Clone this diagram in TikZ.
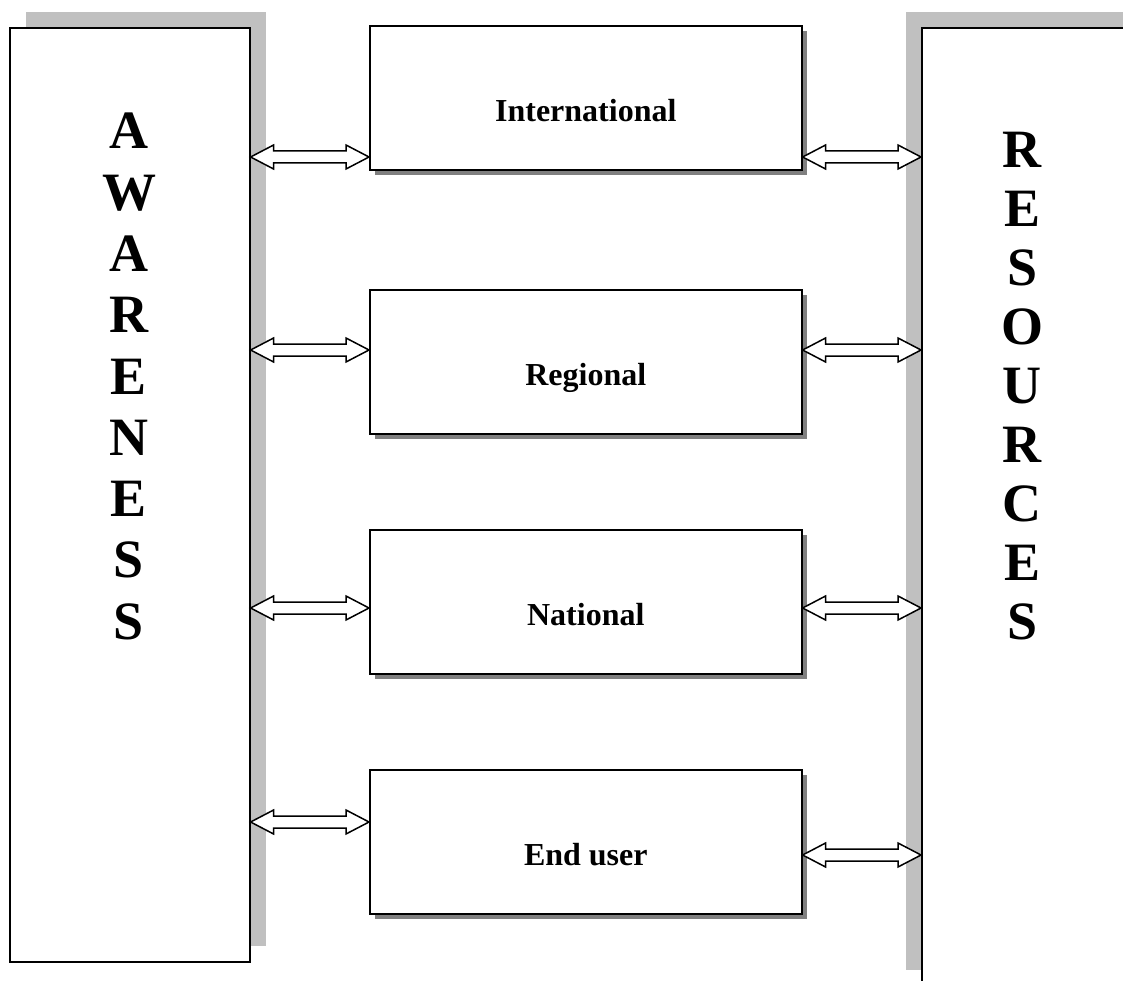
\documentclass[tikz,border=0pt]{standalone}
\usepackage{fontspec}
\setmainfont{Liberation Serif}
\usetikzlibrary{calc,shadows}
\definecolor{lightshade}{RGB}{192,192,192}
\definecolor{darkshade}{RGB}{128,128,128}
\newcommand{\dblarrow}[2]{%
  \draw[blockarrow] (#1) -- ++(23,-12) -- ++(0,6) -- ($(#2)+(-23,-6)$) -- ++(0,-6) -- (#2)
    -- ++(-23,12) -- ++(0,-6) -- ($(#1)+(23,6)$) -- ++(0,6) -- cycle;}
\begin{document}
\begin{tikzpicture}[x=1pt,y=-1pt,
  panel/.style={draw=black, line width=1.6pt, fill=white, inner sep=0pt, anchor=north west},
  levelbox/.style={draw=black, line width=1.6pt, fill=white, inner sep=0pt, anchor=north west,
    minimum width=432pt, minimum height=144pt,
    drop shadow={shadow xshift=5pt, shadow yshift=-5pt, fill=darkshade, opacity=1}},
  levellabel/.style={anchor=base, inner sep=0pt, font=\fontsize{32}{38}\selectfont\bfseries},
  bigletter/.style={anchor=base, inner sep=0pt, font=\fontsize{54}{61}\selectfont\bfseries},
  blockarrow/.style={draw=black, line width=1.5pt, fill=white, line join=miter}]
\useasboundingbox (0,0) rectangle (1123,981);
\clip (0,0) rectangle (1123,981);

% side panels
\node[panel, minimum width=240pt, minimum height=934pt,
  drop shadow={shadow xshift=16pt, shadow yshift=16pt, fill=lightshade, opacity=1}] (aw) at (9,27) {};
\node[panel, minimum width=300pt, minimum height=958pt,
  drop shadow={shadow xshift=-16pt, shadow yshift=16pt, fill=lightshade, opacity=1}] (res) at (921,27) {};

% level boxes
\node[levelbox] (int) at (369,25) {};
\node[levelbox] (reg) at (369,289) {};
\node[levelbox] (nat) at (369,529) {};
\node[levelbox] (end) at (369,769) {};

\node[levellabel] (tint) at ($(int.center)+(0,24)$) {International};
\node[levellabel] (treg) at ($(reg.center)+(0,24)$) {Regional};
\node[levellabel] (tnat) at ($(nat.center)+(0,24)$) {National};
\node[levellabel] (tend) at ($(end.center)+(0,24)$) {End user};

% vertical letters
\foreach \ch [count=\i from 0] in {A,W,A,R,E,N,E,S,S}
  \node[bigletter] (aw\i) at (129,149+61.25*\i) {\ch};
\foreach \ch [count=\i from 0] in {R,E,S,O,U,R,C,E,S}
  \node[bigletter] (res\i) at (1022,168+58.9*\i) {\ch};

% row levels
\coordinate (r1) at (0,157);
\coordinate (r2) at (0,350);
\coordinate (r3) at (0,608);
\coordinate (r4l) at (0,822);
\coordinate (r4r) at (0,855);

% arrows
\dblarrow{aw.east |- r1}{int.west |- r1}
\dblarrow{int.east |- r1}{res.west |- r1}
\dblarrow{aw.east |- r2}{reg.west |- r2}
\dblarrow{reg.east |- r2}{res.west |- r2}
\dblarrow{aw.east |- r3}{nat.west |- r3}
\dblarrow{nat.east |- r3}{res.west |- r3}
\dblarrow{aw.east |- r4l}{end.west |- r4l}
\dblarrow{end.east |- r4r}{res.west |- r4r}
\end{tikzpicture}
\end{document}
